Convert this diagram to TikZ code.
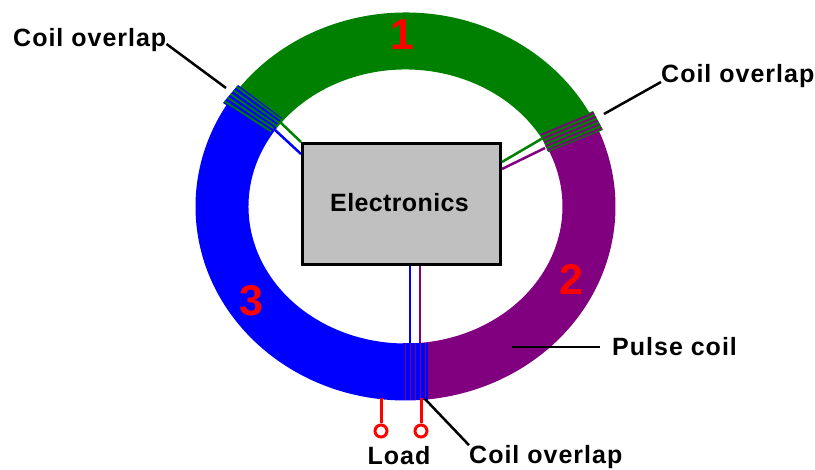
\documentclass[tikz,border=0pt]{standalone}
\usepackage{fontspec}
\setmainfont{Liberation Sans}
\usetikzlibrary{calc}
\definecolor{coilgreen}{HTML}{008000}
\definecolor{coilpurple}{HTML}{800080}
\definecolor{coilblue}{HTML}{0000FF}
\definecolor{boxgray}{HTML}{C0C0C0}
\definecolor{loadred}{HTML}{FF0000}
% one sector of the ring, start and end as ellipse angles
\newcommand{\coilsector}[3]{%
  \fill[#1] ([shift={(ctr)}]#2:210 and 194) arc[start angle=#2,end angle=#3,x radius=210,y radius=194]
    -- ([shift={(ctr)}]#3:157 and 137) arc[start angle=#3,end angle=#2,x radius=157,y radius=137] -- cycle;}
% overlap patch with radial stripes
\newcommand{\coilpatch}[6]{%
  \fill[#1] (#3) -- (#4) -- (#6) -- (#5) -- cycle;
  \foreach \t in {0.1,0.3,0.5,0.7,0.9}
    \draw[#2, line width=1.8pt] ($(#3)!\t!(#4)$) -- ($(#5)!\t!(#6)$);}
\begin{document}
\begin{tikzpicture}[x=1pt, y=1pt,
  label/.style={font=\fontsize{25}{25}\selectfont\addfontfeature{LetterSpace=4}\bfseries, inner sep=0pt},
  boxlabel/.style={font=\fontsize{25}{25}\selectfont\addfontfeature{LetterSpace=1.5}\bfseries, inner sep=0pt},
  digit/.style={font=\fontsize{43}{43}\selectfont\bfseries, text=loadred, inner sep=0pt},
  leader/.style={draw=black, line width=2.5pt},
  wire/.style={line width=2.5pt},
  lead/.style={draw=loadred, line width=3pt},
  terminal/.style={circle, draw=loadred, line width=3pt, fill=white, minimum size=12pt, inner sep=0pt}
]
\useasboundingbox (0,0) rectangle (815,470);
\coordinate (ctr) at (405.5,263.5);
\coilsector{coilgreen}{145}{27}
\coilsector{coilpurple}{27}{-88}
\coilsector{coilblue}{272}{145}
\coilpatch{coilblue}{coilgreen}{238,385}{223,367}{282,352}{270,337}
\coilpatch{coilgreen}{coilpurple}{593,359}{603,340}{540,337}{548,318}
\coilpatch{coilblue}{coilpurple}{403,127}{428,127}{403,70}{428,70}
\coordinate (tlgreen) at (280,348);
\coordinate (tlblue) at (275,340);
\coordinate (trgreen) at (543,332);
\coordinate (trpurple) at (545,322);
\coordinate (botblue) at (410,127);
\coordinate (botpurple) at (420,127);
\node[draw=black, line width=3pt, fill=boxgray, minimum width=198pt, minimum height=121pt, inner sep=0pt] (elec) at (401.5,266) {};
\node[boxlabel] at ([xshift=-2pt,yshift=1pt]elec.center) {Electronics};
\draw[wire, coilgreen] (tlgreen) -- (elec.north west);
\draw[wire, coilblue] (tlblue) -- ([yshift=-12pt]elec.north west);
\draw[wire, coilgreen] (trgreen) -- ([yshift=-20pt]elec.north east);
\draw[wire, coilpurple] (trpurple) -- ([yshift=-27pt]elec.north east);
\draw[wire, coilblue] (botblue) -- (botblue |- elec.south);
\draw[wire, coilpurple] (botpurple) -- (botpurple |- elec.south);
\node[digit] (one) at (402,435) {1};
\node[digit] (two) at (571,191) {2};
\node[digit] (three) at (251,169) {3};
\node[terminal] (loada) at (381,39) {};
\node[terminal] (loadb) at (421,39) {};
\coordinate (leada) at (381,72);
\coordinate (leadb) at (421,72);
\draw[lead] (leada) -- (loada);
\draw[lead] (leadb) -- (loadb);
\node[label] (load) at (399,14) {Load};
\node[label, anchor=west] (ovtl) at (13,430) {Coil overlap};
\node[label, anchor=west] (ovtr) at (661,394) {Coil overlap};
\node[label, anchor=west] (ovbot) at (469,13) {Coil overlap};
\node[label, anchor=west] (pulse) at (612,123) {Pulse coil};
\coordinate (tltip) at (226,382);
\coordinate (trtip) at (604,356);
\coordinate (bottip) at (425,71);
\coordinate (pulsetip) at (512,123);
\draw[leader] ([yshift=-4pt]ovtl.east) -- (tltip);
\draw[leader] ([yshift=-6pt]ovtr.west) -- (trtip);
\draw[leader] (ovbot.north west) -- (bottip);
\draw[leader] ([xshift=-12pt]pulse.west) -- (pulsetip);
\end{tikzpicture}
\end{document}
